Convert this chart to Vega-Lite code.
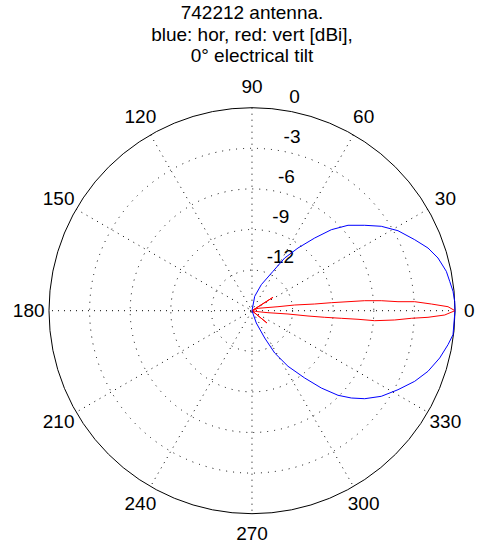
{
  "$schema": "https://vega.github.io/schema/vega-lite/v6.json",
  "width": 478,
  "height": 474,
  "autosize": {"type": "none"},
  "padding": {"top": 80, "left": 0, "right": 0, "bottom": 0},
  "background": "white",
  "title": {
    "text": ["742212 antenna.", "blue: hor, red: vert [dBi],", "0° electrical tilt"],
    "font": "Liberation Sans",
    "fontSize": 19,
    "fontWeight": "normal",
    "color": "#000000",
    "anchor": "middle",
    "offset": 12,
    "lineHeight": 21.5,
    "dx": 13
  },
  "config": {
    "view": {"stroke": null},
    "text": {"font": "Liberation Sans", "fontSize": 19, "color": "#000000"}
  },
  "encoding": {
    "x": {"field": "x", "type": "quantitative", "scale": {"domain": [-18.621, 16.7], "nice": false, "zero": false}, "axis": null},
    "y": {"field": "y", "type": "quantitative", "scale": {"domain": [-17.978, 17.047], "nice": false, "zero": false}, "axis": null}
  },
  "layer": [
    {
      "data": {"values": [
        {"x": 0, "y": 0, "rho": 3},
        {"x": 0, "y": 0, "rho": 6},
        {"x": 0, "y": 0, "rho": 9},
        {"x": 0, "y": 0, "rho": 12}
      ]},
      "mark": {"type": "point", "shape": "circle", "filled": false, "stroke": "#000000", "strokeWidth": 1, "strokeDash": [1, 6], "opacity": 1},
      "encoding": {
        "size": {"field": "rho", "type": "quantitative", "scale": {"type": "pow", "exponent": 2, "domain": [0, 15], "range": [0, 164836]}, "legend": null}
      }
    },
    {
      "data": {"values": [
        {"x": 15, "y": 0, "x2": -15, "y2": 0},
        {"x": 12.99, "y": 7.5, "x2": -12.99, "y2": -7.5},
        {"x": 7.5, "y": 12.99, "x2": -7.5, "y2": -12.99},
        {"x": 0, "y": 15, "x2": 0, "y2": -15},
        {"x": -7.5, "y": 12.99, "x2": 7.5, "y2": -12.99},
        {"x": -12.99, "y": 7.5, "x2": 12.99, "y2": -7.5}
      ]},
      "mark": {"type": "rule", "color": "#000000", "strokeWidth": 1, "strokeDash": [1, 5]},
      "encoding": {
        "x2": {"field": "x2"},
        "y2": {"field": "y2"}
      }
    },
    {
      "data": {"values": [{"x": 0, "y": 0, "rho": 15}]},
      "mark": {"type": "point", "shape": "circle", "filled": false, "stroke": "#000000", "strokeWidth": 1, "opacity": 1},
      "encoding": {
        "size": {"field": "rho", "type": "quantitative", "scale": {"type": "pow", "exponent": 2, "domain": [0, 15], "range": [0, 164836]}, "legend": null}
      }
    },
    {
      "data": {"values": [
        {"x": 16.05, "y": 0, "label": "0"},
        {"x": 14.289, "y": 8.25, "label": "30"},
        {"x": 8.25, "y": 14.289, "label": "60"},
        {"x": 0, "y": 16.5, "label": "90"},
        {"x": -8.25, "y": 14.289, "label": "120"},
        {"x": -14.289, "y": 8.25, "label": "150"},
        {"x": -16.5, "y": 0, "label": "180"},
        {"x": -14.289, "y": -8.25, "label": "210"},
        {"x": -8.25, "y": -14.289, "label": "240"},
        {"x": 0, "y": -16.5, "label": "270"},
        {"x": 8.25, "y": -14.289, "label": "300"},
        {"x": 14.289, "y": -8.25, "label": "330"}
      ]},
      "mark": {"type": "text", "align": "center", "baseline": "middle"},
      "encoding": {"text": {"field": "label"}}
    },
    {
      "data": {"values": [
        {"x": 2.0876, "y": 14.854, "label": "0"},
        {"x": 1.67, "y": 11.883, "label": "-3"},
        {"x": 1.2526, "y": 8.912, "label": "-6"},
        {"x": 0.835, "y": 5.942, "label": "-9"},
        {"x": 0.4175, "y": 2.971, "label": "-12"}
      ]},
      "mark": {"type": "text", "align": "left", "baseline": "alphabetic", "dx": 9, "dy": -7},
      "encoding": {"text": {"field": "label"}}
    },
    {
      "data": {"values": [
        {"pattern": "vert", "i": 0, "x": 0, "y": 0},
        {"pattern": "vert", "i": 1, "x": 1.108, "y": -0.909},
        {"pattern": "vert", "i": 2, "x": 0, "y": 0},
        {"pattern": "vert", "i": 3, "x": 0.443, "y": -0.074},
        {"pattern": "vert", "i": 4, "x": 1.182, "y": -0.148},
        {"pattern": "vert", "i": 5, "x": 2.66, "y": -0.244},
        {"pattern": "vert", "i": 6, "x": 4.138, "y": -0.392},
        {"pattern": "vert", "i": 7, "x": 5.372, "y": -0.488},
        {"pattern": "vert", "i": 8, "x": 6.599, "y": -0.562},
        {"pattern": "vert", "i": 9, "x": 7.833, "y": -0.635},
        {"pattern": "vert", "i": 10, "x": 9.067, "y": -0.739},
        {"pattern": "vert", "i": 11, "x": 10.545, "y": -0.687},
        {"pattern": "vert", "i": 12, "x": 11.771, "y": -0.562},
        {"pattern": "vert", "i": 13, "x": 13.005, "y": -0.488},
        {"pattern": "vert", "i": 14, "x": 14.239, "y": -0.318},
        {"pattern": "vert", "i": 15, "x": 15.0, "y": 0},
        {"pattern": "vert", "i": 16, "x": 14.483, "y": 0.296},
        {"pattern": "vert", "i": 17, "x": 13.249, "y": 0.495},
        {"pattern": "vert", "i": 18, "x": 12.023, "y": 0.665},
        {"pattern": "vert", "i": 19, "x": 10.788, "y": 0.665},
        {"pattern": "vert", "i": 20, "x": 9.554, "y": 0.739},
        {"pattern": "vert", "i": 21, "x": 8.328, "y": 0.739},
        {"pattern": "vert", "i": 22, "x": 7.094, "y": 0.665},
        {"pattern": "vert", "i": 23, "x": 5.86, "y": 0.591},
        {"pattern": "vert", "i": 24, "x": 4.633, "y": 0.495},
        {"pattern": "vert", "i": 25, "x": 3.155, "y": 0.421},
        {"pattern": "vert", "i": 26, "x": 1.921, "y": 0.296},
        {"pattern": "vert", "i": 27, "x": 0.443, "y": 0.177},
        {"pattern": "vert", "i": 28, "x": 0, "y": 0},
        {"pattern": "vert", "i": 29, "x": 1.552, "y": 0.99},
        {"pattern": "vert", "i": 30, "x": 0, "y": 0}
      ]},
      "mark": {"type": "line", "strokeWidth": 1, "interpolate": "linear"},
      "encoding": {
        "order": {"field": "i", "type": "quantitative"},
        "color": {"field": "pattern", "type": "nominal", "scale": {"domain": ["hor", "vert"], "range": ["#0000ff", "#ff0000"]}, "legend": null}
      }
    },
    {
      "data": {"values": [
        {"pattern": "hor", "i": 0, "x": 0, "y": 0},
        {"pattern": "hor", "i": 1, "x": 0.2, "y": 1.064},
        {"pattern": "hor", "i": 2, "x": 0.687, "y": 1.921},
        {"pattern": "hor", "i": 3, "x": 1.552, "y": 2.911},
        {"pattern": "hor", "i": 4, "x": 2.416, "y": 3.894},
        {"pattern": "hor", "i": 5, "x": 3.399, "y": 4.633},
        {"pattern": "hor", "i": 6, "x": 4.633, "y": 5.372},
        {"pattern": "hor", "i": 7, "x": 5.86, "y": 5.985},
        {"pattern": "hor", "i": 8, "x": 7.094, "y": 6.311},
        {"pattern": "hor", "i": 9, "x": 8.328, "y": 6.311},
        {"pattern": "hor", "i": 10, "x": 9.554, "y": 6.237},
        {"pattern": "hor", "i": 11, "x": 10.788, "y": 5.911},
        {"pattern": "hor", "i": 12, "x": 12.023, "y": 5.246},
        {"pattern": "hor", "i": 13, "x": 13.005, "y": 4.633},
        {"pattern": "hor", "i": 14, "x": 13.744, "y": 3.894},
        {"pattern": "hor", "i": 15, "x": 14.358, "y": 2.911},
        {"pattern": "hor", "i": 16, "x": 14.609, "y": 2.172},
        {"pattern": "hor", "i": 17, "x": 14.853, "y": 1.434},
        {"pattern": "hor", "i": 18, "x": 14.978, "y": 0.695},
        {"pattern": "hor", "i": 19, "x": 15.0, "y": 0},
        {"pattern": "hor", "i": 20, "x": 14.853, "y": -1.773},
        {"pattern": "hor", "i": 21, "x": 14.483, "y": -2.512},
        {"pattern": "hor", "i": 22, "x": 13.87, "y": -3.495},
        {"pattern": "hor", "i": 23, "x": 13.005, "y": -4.478},
        {"pattern": "hor", "i": 24, "x": 12.023, "y": -5.217},
        {"pattern": "hor", "i": 25, "x": 10.788, "y": -5.838},
        {"pattern": "hor", "i": 26, "x": 9.554, "y": -6.325},
        {"pattern": "hor", "i": 27, "x": 8.328, "y": -6.503},
        {"pattern": "hor", "i": 28, "x": 7.338, "y": -6.451},
        {"pattern": "hor", "i": 29, "x": 6.355, "y": -6.251},
        {"pattern": "hor", "i": 30, "x": 5.121, "y": -5.712},
        {"pattern": "hor", "i": 31, "x": 3.894, "y": -4.973},
        {"pattern": "hor", "i": 32, "x": 2.66, "y": -4.108},
        {"pattern": "hor", "i": 33, "x": 1.677, "y": -3.126},
        {"pattern": "hor", "i": 34, "x": 0.938, "y": -2.017},
        {"pattern": "hor", "i": 35, "x": 0.318, "y": -0.909},
        {"pattern": "hor", "i": 36, "x": 0, "y": 0}
      ]},
      "mark": {"type": "line", "strokeWidth": 1, "interpolate": "linear"},
      "encoding": {
        "order": {"field": "i", "type": "quantitative"},
        "color": {"field": "pattern", "type": "nominal", "scale": {"domain": ["hor", "vert"], "range": ["#0000ff", "#ff0000"]}, "legend": null}
      }
    }
  ]
}
